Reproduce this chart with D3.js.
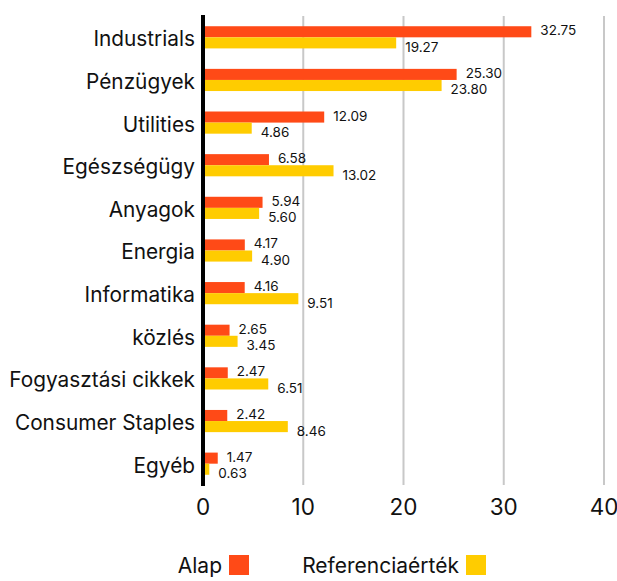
<!DOCTYPE html>
<html>
<head>
<meta charset="utf-8">
<style>
  body { margin: 0; background: #fff; }
  text { font-family: Inter, "DejaVu Sans", sans-serif; fill: #111; }
</style>
</head>
<body>
<svg width="617" height="581"></svg>
<script src="https://cdn.jsdelivr.net/npm/d3@7"></script>
<script>
var categories = ["Industrials", "Pénzügyek", "Utilities", "Egészségügy", "Anyagok", "Energia",
                  "Informatika", "közlés", "Fogyasztási cikkek", "Consumer Staples", "Egyéb"];
var alap = [32.75, 25.30, 12.09, 6.58, 5.94, 4.17, 4.16, 2.65, 2.47, 2.42, 1.47];
var referencia = [19.27, 23.80, 4.86, 13.02, 5.60, 4.90, 9.51, 3.45, 6.51, 8.46, 0.63];
var xTicks = [0, 10, 20, 30, 40];
var seriesNames = ["Alap", "Referenciaérték"];
var colors = ["#ff4a17", "#ffcc00"];

var svg = d3.select("svg");
var x = d3.scaleLinear().domain([0, 40]).range([203, 604]);
var y = d3.scaleBand().domain(categories).range([16, 485]).paddingInner(0.48).paddingOuter(0.24);
var barH = y.bandwidth() / 2;

// grid
svg.append("g").selectAll("line").data(xTicks.slice(1)).join("line")
  .attr("x1", d => x(d)).attr("x2", d => x(d))
  .attr("y1", 16).attr("y2", 485)
  .attr("stroke", "#c8c8c8").attr("stroke-width", 2);

var rows = svg.append("g").selectAll("g").data(categories).join("g")
  .attr("transform", d => "translate(0," + y(d) + ")");

rows.append("rect").attr("x", x(0)).attr("y", 0)
  .attr("width", (d, i) => x(alap[i]) - x(0)).attr("height", barH).attr("fill", colors[0]);
rows.append("rect").attr("x", x(0)).attr("y", barH)
  .attr("width", (d, i) => x(referencia[i]) - x(0)).attr("height", barH).attr("fill", colors[1]);

rows.append("text").attr("x", (d, i) => x(alap[i]) + 9).attr("y", barH / 2 + 3.5)
  .attr("font-size", 13.5).text((d, i) => alap[i].toFixed(2));
rows.append("text").attr("x", (d, i) => x(referencia[i]) + 9).attr("y", barH * 1.5 + 9)
  .attr("font-size", 13.5).text((d, i) => referencia[i].toFixed(2));

rows.append("text").attr("x", 195).attr("y", barH + 9)
  .attr("text-anchor", "end").attr("font-size", 20.8).text(d => d);

// baseline
svg.append("line").attr("x1", x(0)).attr("x2", x(0)).attr("y1", 15).attr("y2", 486)
  .attr("stroke", "#000").attr("stroke-width", 4);

// x axis labels
svg.append("g").selectAll("text").data(xTicks).join("text")
  .attr("x", d => x(d)).attr("y", 515).attr("text-anchor", "middle")
  .attr("font-size", 22.5).text(d => d);

// legend
var legX = [222, 459];
var leg = svg.append("g").selectAll("g").data(seriesNames).join("g");
leg.append("text").attr("x", (d, i) => legX[i]).attr("y", 573)
  .attr("text-anchor", "end").attr("font-size", 21).text(d => d);
leg.append("rect").attr("x", (d, i) => legX[i] + 7).attr("y", 555)
  .attr("width", 20).attr("height", 20).attr("fill", (d, i) => colors[i]);
</script>
</body>
</html>
